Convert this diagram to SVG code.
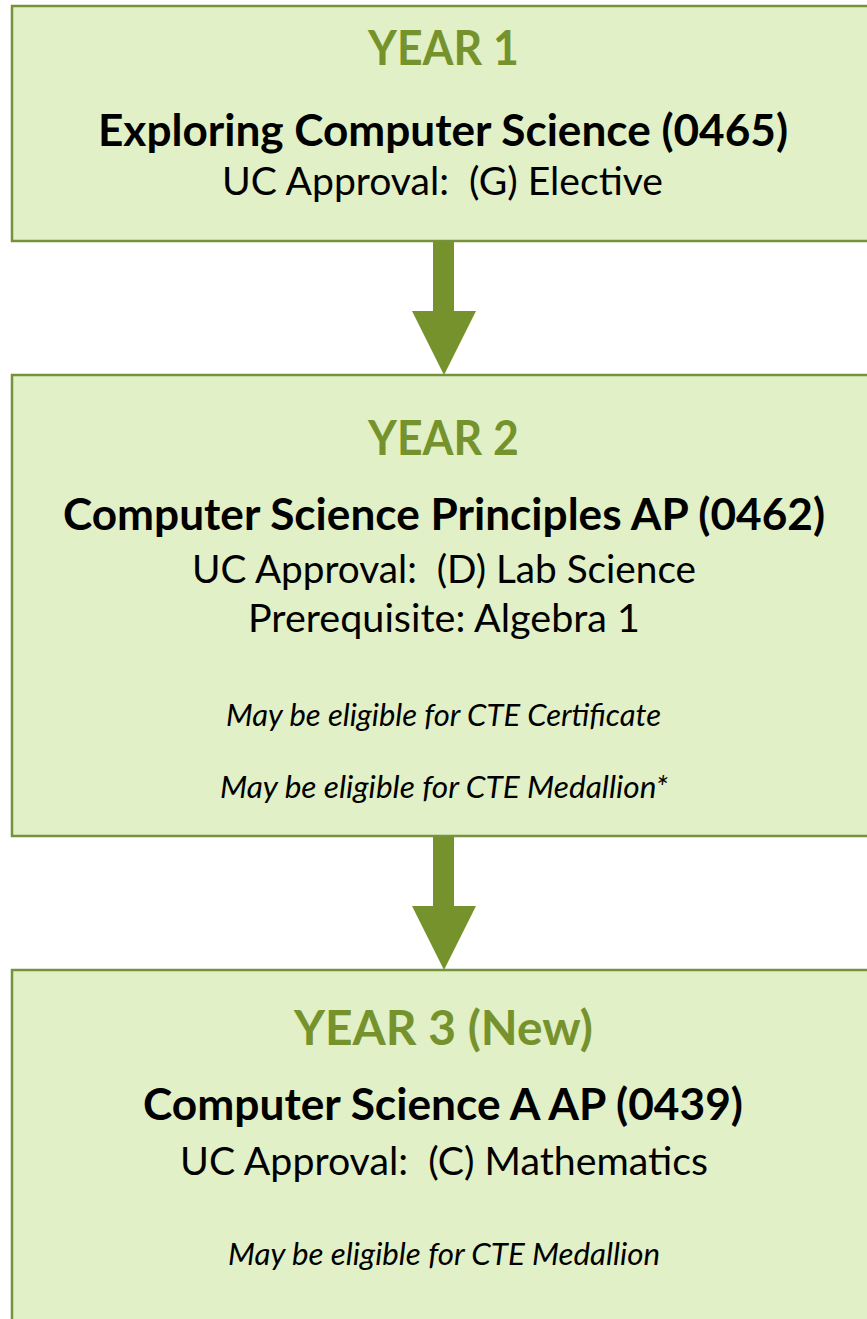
<svg xmlns="http://www.w3.org/2000/svg" width="867" height="1319" viewBox="0 0 867 1319">
<style>
.box{fill:#E1F0C6;stroke:#76923C;stroke-width:2.5}
.arrow{fill:#76922C;stroke:none}
text{font-family:Lato,"Liberation Sans",sans-serif;text-anchor:middle;fill:#000;white-space:pre}
.yr{font-weight:bold;font-size:48px;fill:#76922C}
.course{font-weight:bold;font-size:44px}
.uc{font-size:39px}
.note{font-style:italic;font-size:30px}
</style>
<rect width="867" height="1319" fill="#fff"/>
<g id="connectors">
<polygon class="arrow" points="433,242 454,242 454,311 476,311 444,375 412,311 433,311"/>
<polygon class="arrow" points="433,837 454,837 454,906 476,906 444,970 412,906 433,906"/>
</g>
<g id="year1">
<rect class="box" x="12" y="6" width="870" height="235"/>
<text class="yr" x="443.5" y="65" textLength="151" lengthAdjust="spacingAndGlyphs">YEAR 1</text>
<text class="course" x="443" y="146" textLength="690" lengthAdjust="spacingAndGlyphs">Exploring Computer Science (0465)</text>
<text class="uc" x="442.5" y="195" textLength="441" lengthAdjust="spacingAndGlyphs" xml:space="preserve">UC Approval:  (G) Elective</text>
</g>
<g id="year2">
<rect class="box" x="12" y="375" width="870" height="461"/>
<text class="yr" x="443.5" y="455" textLength="151" lengthAdjust="spacingAndGlyphs">YEAR 2</text>
<text class="course" x="444" y="530" textLength="762" lengthAdjust="spacingAndGlyphs">Computer Science Principles AP (0462)</text>
<text class="uc" x="444" y="583" textLength="504" lengthAdjust="spacingAndGlyphs" xml:space="preserve">UC Approval:  (D) Lab Science</text>
<text class="uc" x="444" y="632" textLength="392" lengthAdjust="spacingAndGlyphs">Prerequisite: Algebra 1</text>
<text class="note" x="443.5" y="726" textLength="435" lengthAdjust="spacingAndGlyphs">May be eligible for CTE Certificate</text>
<text class="note" x="444" y="798" textLength="448" lengthAdjust="spacingAndGlyphs">May be eligible for CTE Medallion*</text>
</g>
<g id="year3">
<rect class="box" x="12" y="970" width="870" height="360"/>
<text class="yr" x="443.5" y="1045" textLength="299" lengthAdjust="spacingAndGlyphs">YEAR 3 (New)</text>
<text class="course" x="443" y="1120" textLength="600" lengthAdjust="spacingAndGlyphs">Computer Science A AP (0439)</text>
<text class="uc" x="444" y="1175" textLength="528" lengthAdjust="spacingAndGlyphs" xml:space="preserve">UC Approval:  (C) Mathematics</text>
<text class="note" x="444" y="1265" textLength="432" lengthAdjust="spacingAndGlyphs">May be eligible for CTE Medallion</text>
</g>
</svg>
